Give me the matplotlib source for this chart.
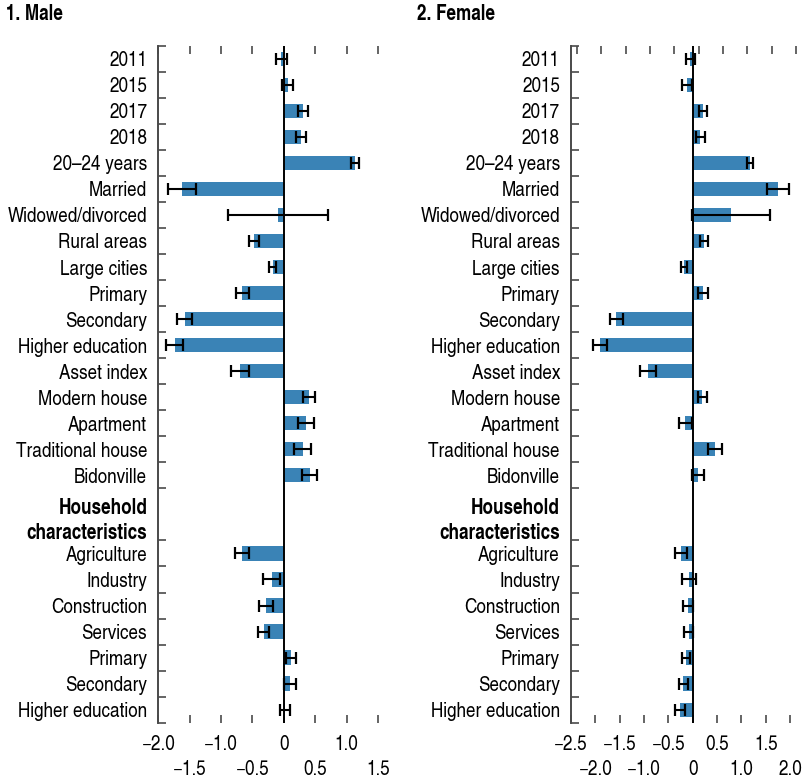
import matplotlib
matplotlib.use("Agg")
import matplotlib.pyplot as plt
import numpy as np
from matplotlib.ticker import FixedLocator, FixedFormatter, NullFormatter

plt.rcParams['font.family'] = ['TeX Gyre Heros Cn', 'Roboto Condensed', 'Liberation Sans', 'DejaVu Sans']

# ---------------- data ----------------
categories_top = ["2011", "2015", "2017", "2018", "20\u201324 years", "Married",
                  "Widowed/divorced", "Rural areas", "Large cities", "Primary",
                  "Secondary", "Higher education", "Asset index", "Modern house",
                  "Apartment", "Traditional house", "Bidonville"]
header_label = "Household\ncharacteristics"
categories_bottom = ["Agriculture", "Industry", "Construction", "Services",
                     "Primary", "Secondary", "Higher education"]

male_values = [-0.04, 0.06, 0.30, 0.28, 1.13, -1.62, -0.09, -0.48, -0.18, -0.66,
               -1.58, -1.74, -0.70, 0.40, 0.35, 0.30, 0.41,
               -0.67, -0.19, -0.28, -0.32, 0.12, 0.10, 0.02]
male_err = [0.085, 0.09, 0.08, 0.08, 0.06, 0.22, 0.80, 0.08, 0.056, 0.10,
            0.12, 0.14, 0.15, 0.09, 0.13, 0.14, 0.125,
            0.11, 0.135, 0.11, 0.09, 0.08, 0.09, 0.085]
female_values = [-0.05, -0.11, 0.21, 0.16, 1.175, 1.75, 0.79, 0.23, -0.18, 0.21,
                 -1.57, -1.90, -0.915, 0.20, -0.15, 0.46, 0.105,
                 -0.24, -0.08, -0.10, -0.08, -0.14, -0.19, -0.26]
female_err = [0.095, 0.105, 0.09, 0.09, 0.06, 0.225, 0.80, 0.09, 0.065, 0.11,
              0.13, 0.145, 0.17, 0.10, 0.14, 0.15, 0.125,
              0.117, 0.147, 0.106, 0.09, 0.09, 0.096, 0.096]

male_xticks_row1 = [-2.0, -1.0, 0.0, 1.0]
male_xticks_row2 = [-1.5, -0.5, 0.5, 1.5]
female_xticks_row1 = [-2.5, -1.5, -0.5, 0.5, 1.5]
female_xticks_row2 = [-2.0, -1.0, 0.0, 1.0, 2.0]

# ---------------- layout ----------------
n_top = len(categories_top)
n_bot = len(categories_bottom)
header_rows = 2
pos = list(range(n_top)) + [n_top + header_rows + i for i in range(n_bot)]
header_pos = n_top + (header_rows - 1) / 2
n_rows = n_top + header_rows + n_bot
boundaries = [p - 0.5 for p in range(n_top + 1)] + \
             [n_top + header_rows + i - 0.5 for i in range(n_bot + 1)]

BAR = '#3A83B6'
SPINE = '#4a4a4a'
FS = 15

W, H = 805, 779
fig = plt.figure(figsize=(W / 100, H / 100), dpi=100)


def fmt(v):
    if abs(v) < 1e-9:
        return "0"
    return f"{v:.1f}".replace("-", "\u2212")


def make_panel(rect, values, errs, xlim, row1, row2, title, title_x, top_offset):
    ax = fig.add_axes(rect)
    ax.barh(pos, values, height=0.55, color=BAR, zorder=2)
    ax.errorbar(values, pos, xerr=errs, fmt='none', ecolor='black',
                elinewidth=1.5, capsize=4, capthick=1.6, zorder=4)
    ax.axvline(0, color='black', lw=1.4, zorder=3)
    ax.set_xlim(*xlim)
    ax.set_ylim(n_rows - 0.5, -0.5)

    for s in ['top', 'right', 'bottom']:
        ax.spines[s].set_visible(False)
    ax.spines['left'].set_color(SPINE)
    ax.spines['left'].set_linewidth(1.4)

    ylabels = categories_top + [header_label] + categories_bottom
    yp = pos[:n_top] + [header_pos + 0.1] + pos[n_top:]
    ax.set_yticks(yp)
    ax.set_yticklabels(ylabels, fontsize=FS)
    for lab in ax.get_yticklabels():
        if lab.get_text() == header_label:
            lab.set_fontweight('bold')
            lab.set_linespacing(1.25)
    ax.tick_params(axis='y', which='major', length=0, pad=8)
    ax.yaxis.set_minor_locator(FixedLocator(boundaries))
    ax.tick_params(axis='y', which='minor', direction='in', length=6,
                   width=1.2, color=SPINE)

    ax.set_xticks(row1)
    ax.set_xticklabels([fmt(v) for v in row1], fontsize=FS)
    ax.xaxis.set_minor_locator(FixedLocator(row2))
    ax.xaxis.set_minor_formatter(FixedFormatter([fmt(v) for v in row2]))
    ax.tick_params(axis='x', which='major', direction='in', length=6, width=1.2,
                   color=SPINE, pad=9, labelsize=FS, top=(top_offset == 0))
    ax.tick_params(axis='x', which='minor', direction='in', length=6, width=1.2,
                   color=SPINE, pad=27, labelsize=FS, top=(top_offset == 0))
    if top_offset != 0:
        sec = ax.secondary_xaxis('top', functions=(lambda x: x - top_offset,
                                                   lambda x: x + top_offset))
        sec.set_xticks(sorted(row1 + row2))
        sec.xaxis.set_major_formatter(NullFormatter())
        sec.tick_params(axis='x', direction='in', length=6, width=1.2, color=SPINE)
        sec.spines['top'].set_visible(False)

    fig.text(title_x / W, 1 - 15 / H, title, fontsize=FS, fontweight='bold',
             ha='left', va='center')
    return ax


y0 = 1 - 722.7 / H
hgt = (722.7 - 45.7) / H

make_panel([158.3 / W, y0, (390.6 - 158.3) / W, hgt], male_values, male_err,
           (-2.0, 1.7), male_xticks_row1, male_xticks_row2, "1. Male", 6, 0)
make_panel([571.0 / W, y0, (799.8 - 571.0) / W, hgt], female_values, female_err,
           (-2.5, 2.2), female_xticks_row1, female_xticks_row2, "2. Female", 416.5, 0.12)

fig.savefig("out.png", dpi=100)
